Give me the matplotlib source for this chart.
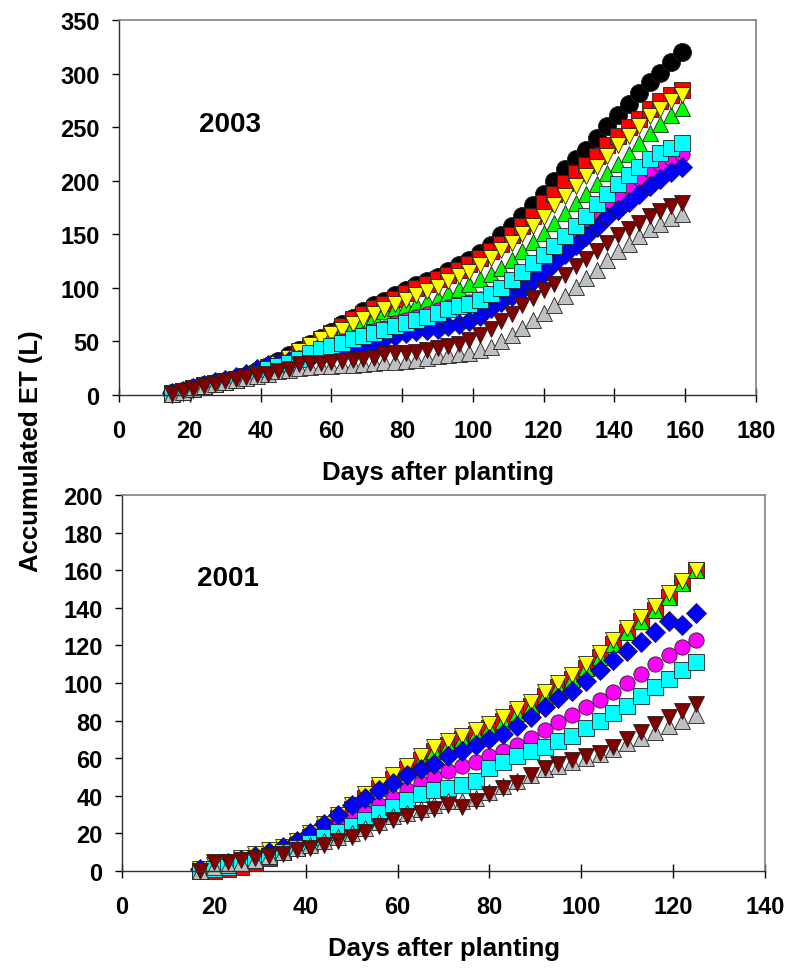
import matplotlib
matplotlib.use("Agg")
import matplotlib.pyplot as plt

plt.rcParams['font.family'] = ['Liberation Sans', 'DejaVu Sans']
plt.rcParams['font.weight'] = 'bold'

# 2003 season, days after planting (every 3rd day)
dias2003 = list(range(15, 160, 3))
negro2003 = [2, 4, 7, 9, 11, 13, 15, 18, 22, 27, 32, 37, 42, 48, 53, 59, 66, 72, 78, 84, 88, 93, 98, 103, 106,
             110, 116, 121, 126, 133, 140, 149, 158, 167, 177, 188, 200, 211, 220, 229, 240, 251, 261, 272, 282,
             292, 301, 311, 320]
rojo2003 = [2, 4, 7, 9, 11, 13, 15, 18, 21, 26, 30, 35, 40, 46, 52, 58, 64, 71, 76, 81, 85, 90, 95, 100, 104,
            108, 112, 117, 122, 128, 134, 141, 149, 158, 167, 179, 188, 198, 207, 215, 223, 233, 242, 250, 258,
            267, 274, 280, 285]
verde2003 = [2, 4, 7, 9, 11, 13, 15, 18, 21, 25, 29, 34, 40, 46, 51, 56, 60, 65, 70, 74, 78, 81, 83, 85, 88,
             91, 95, 99, 104, 108, 113, 119, 126, 134, 143, 151, 161, 170, 179, 188, 197, 207, 216, 225, 235,
             245, 253, 261, 268]
amarillo2003 = [2, 4, 7, 9, 11, 13, 15, 18, 21, 25, 29, 35, 41, 47, 52, 57, 61, 66, 71, 76, 80, 85, 89, 93, 97,
                101, 106, 111, 115, 121, 128, 135, 142, 150, 158, 166, 177, 186, 195, 204, 213, 223, 233, 242,
                251, 260, 267, 274, 280]
magenta2003 = [2, 4, 7, 9, 11, 13, 15, 17, 20, 24, 27, 31, 35, 39, 43, 47, 50, 53, 56, 60, 63, 67, 70, 73, 76,
               79, 82, 84, 87, 90, 94, 100, 106, 113, 120, 128, 135, 143, 151, 159, 168, 177, 186, 195, 203,
               210, 216, 221, 225]
azul2003 = [2, 4, 7, 9, 12, 14, 17, 20, 24, 28, 30, 32, 33, 35, 37, 39, 41, 44, 46, 49, 52, 55, 58, 60, 61,
            62, 64, 66, 69, 74, 81, 87, 92, 98, 106, 114, 123, 132, 140, 148, 157, 166, 173, 180, 188, 195,
            202, 208, 213]
cian2003 = [1, 3, 6, 8, 10, 12, 14, 17, 20, 24, 27, 30, 34, 39, 43, 46, 49, 52, 55, 58, 61, 64, 67, 70, 73,
            77, 80, 83, 85, 89, 94, 100, 107, 115, 123, 131, 139, 148, 158, 167, 178, 188, 197, 205, 213, 220,
            226, 231, 235]
gris2003 = [1, 3, 6, 8, 10, 12, 14, 16, 18, 20, 22, 23, 25, 26, 27, 27, 28, 28, 29, 30, 31, 31, 32, 33, 35,
            36, 37, 38, 39, 42, 45, 50, 56, 63, 70, 77, 84, 92, 101, 109, 117, 126, 134, 141, 148, 155, 160,
            165, 169]
granate2003 = [1, 4, 6, 8, 10, 13, 15, 17, 19, 20, 22, 24, 29, 30, 30, 31, 32, 33, 34, 35, 38, 39, 39, 40, 42,
               44, 46, 48, 51, 56, 62, 69, 76, 84, 91, 98, 104, 112, 120, 127, 134, 142, 149, 155, 161, 167,
               172, 176, 179]

# 2001 season
dias2001 = list(range(17, 126, 3))
rojo2001 = [0, 0, 1, 2, 4, 7, 10, 14, 18, 23, 28, 33, 39, 44, 49, 54, 59, 64, 67, 70, 73, 76, 80, 84, 88,
            93, 98, 102, 108, 114, 121, 127, 133, 139, 146, 153, 160]
verde2001 = [1, 2, 4, 6, 8, 10, 12, 15, 19, 24, 28, 33, 39, 44, 49, 54, 59, 64, 67, 70, 73, 76, 80, 84, 88,
             93, 98, 102, 108, 114, 121, 127, 133, 139, 146, 153, 160]
amarillo2001 = [1, 3, 5, 7, 9, 11, 13, 16, 20, 25, 30, 35, 41, 46, 51, 56, 61, 66, 69, 72, 75, 78, 82, 86, 90,
                95, 100, 104, 110, 116, 123, 129, 135, 141, 148, 154, 160]
magenta2001 = [1, 2, 3, 5, 7, 9, 11, 14, 17, 20, 24, 28, 31, 35, 39, 43, 47, 50, 53, 56, 58, 61, 64, 67, 71,
               75, 79, 83, 87, 91, 95, 100, 105, 110, 115, 119, 123]
azul2001 = [1, 2, 4, 6, 8, 10, 13, 16, 20, 25, 30, 35, 39, 43, 47, 51, 54, 57, 61, 64, 67, 70, 73, 77, 82,
            87, 92, 96, 101, 107, 112, 117, 122, 127, 133, 131, 137]
cian2001 = [0, 1, 2, 4, 6, 8, 10, 12, 15, 18, 21, 24, 27, 31, 34, 38, 41, 43, 44, 46, 48, 55, 58, 61, 64,
            66, 69, 72, 76, 80, 84, 88, 93, 98, 102, 107, 111]
gris2001 = [0, 2, 3, 4, 6, 8, 10, 12, 14, 16, 18, 20, 23, 26, 29, 31, 33, 35, 37, 37, 39, 42, 45, 48, 51,
            54, 56, 58, 60, 62, 65, 68, 71, 74, 77, 80, 83]
granate2001 = [0, 5, 5, 6, 7, 8, 9, 11, 12, 14, 16, 18, 21, 24, 27, 29, 31, 33, 35, 34, 37, 41, 44, 47, 51,
               55, 57, 59, 61, 63, 66, 70, 74, 78, 82, 85, 89]

# (datos, marcador, color, tamaño) en el orden de dibujo
series2003 = [
    (negro2003, 'o', 'black', 13),
    (rojo2003, 's', 'red', 11),
    (verde2003, '^', '#00ff00', 11),
    (amarillo2003, 'v', 'yellow', 12),
    (magenta2003, 'o', 'magenta', 11),
    (azul2003, 'D', 'blue', 10),
    (cian2003, 's', 'cyan', 11),
    (gris2003, '^', '#c0c0c0', 11),
    (granate2003, 'v', '#800000', 12),
]
series2001 = [
    (rojo2001, 's', 'red', 11),
    (verde2001, '^', '#00ff00', 11),
    (amarillo2001, 'v', 'yellow', 12),
    (magenta2001, 'o', 'magenta', 11),
    (azul2001, 'D', 'blue', 10),
    (cian2001, 's', 'cyan', 11),
    (gris2001, '^', '#c0c0c0', 11),
    (granate2001, 'v', '#800000', 12),
]

fig = plt.figure(figsize=(7.91, 9.70), dpi=100)
W, H = 791, 970
axTop = fig.add_axes([119 / W, 1 - 396 / H, (756 - 119) / W, (396 - 21) / H])
axBot = fig.add_axes([122 / W, 1 - 872 / H, (765 - 122) / W, (872 - 496) / H])


def dibujar(ax, dias, series, xmax, ymax, ypaso, etiqueta, pos):
    for valores, marca, color, tam in series:
        ax.plot(dias, valores, linestyle='none', marker=marca, markersize=tam,
                markerfacecolor=color, markeredgecolor='#202020', markeredgewidth=0.6,
                clip_on=False)
    ax.set_xlim(0, xmax)
    ax.set_ylim(0, ymax)
    ax.set_xticks(range(0, xmax + 1, 20))
    ax.set_yticks(range(0, ymax + 1, ypaso))
    ax.tick_params(axis='x', direction='inout', length=10, width=1, labelsize=17, pad=12)
    ax.tick_params(axis='y', direction='out', length=5, width=1, labelsize=17, pad=9)
    for lado in ['top', 'right']:
        ax.spines[lado].set_color('#808080')
        ax.spines[lado].set_linewidth(1.2)
    for lado in ['left', 'bottom']:
        ax.spines[lado].set_color('#303030')
        ax.spines[lado].set_linewidth(1)
    ax.set_xlabel('Days after planting', fontsize=18.5, fontweight='bold', labelpad=13)
    ax.text(pos[0], pos[1], etiqueta, fontsize=20, fontweight='bold', ha='center', va='center')


dibujar(axTop, dias2003, series2003, 180, 350, 50, '2003', (31.4, 253))
dibujar(axBot, dias2001, series2001, 140, 200, 20, '2001', (23, 156))

fig.text(31 / W, 1 - 451 / H, 'Accumulated ET (L)', rotation=90, fontsize=18.5,
         fontweight='bold', ha='center', va='center')

fig.savefig('out.png', dpi=100)
